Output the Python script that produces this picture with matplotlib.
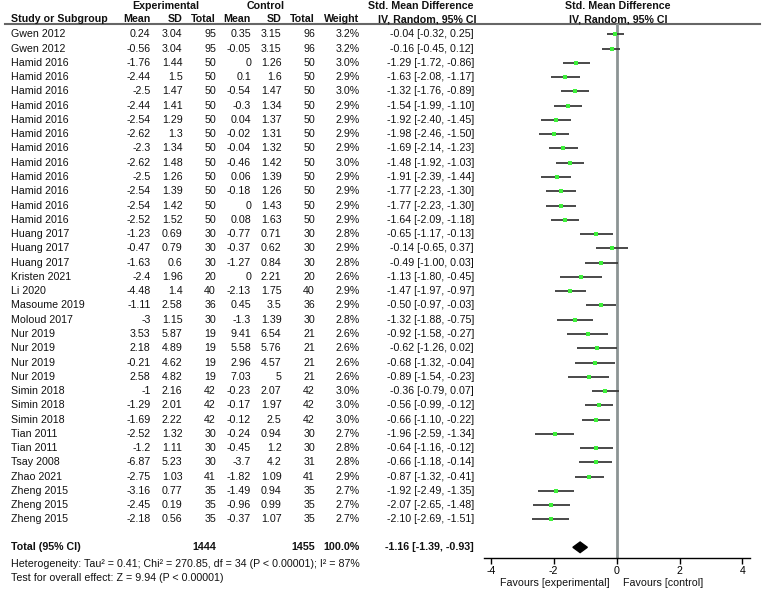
import matplotlib
matplotlib.use('Agg')
import matplotlib.pyplot as plt
import numpy as np

plt.rcParams['font.family'] = ['Liberation Sans', 'DejaVu Sans']

# table data
studies = ['Gwen 2012', 'Gwen 2012'] + ['Hamid 2016'] * 12 + ['Huang 2017'] * 3 + \
    ['Kristen 2021', 'Li 2020', 'Masoume 2019', 'Moloud 2017'] + ['Nur 2019'] * 4 + \
    ['Simin 2018'] * 3 + ['Tian 2011', 'Tian 2011', 'Tsay 2008', 'Zhao 2021'] + ['Zheng 2015'] * 3
exp_mean = ['0.24', '-0.56', '-1.76', '-2.44', '-2.5', '-2.44', '-2.54', '-2.62', '-2.3', '-2.62',
            '-2.5', '-2.54', '-2.54', '-2.52', '-1.23', '-0.47', '-1.63', '-2.4', '-4.48', '-1.11',
            '-3', '3.53', '2.18', '-0.21', '2.58', '-1', '-1.29', '-1.69', '-2.52', '-1.2', '-6.87',
            '-2.75', '-3.16', '-2.45', '-2.18']
exp_sd = ['3.04', '3.04', '1.44', '1.5', '1.47', '1.41', '1.29', '1.3', '1.34', '1.48', '1.26',
          '1.39', '1.42', '1.52', '0.69', '0.79', '0.6', '1.96', '1.4', '2.58', '1.15', '5.87',
          '4.89', '4.62', '4.82', '2.16', '2.01', '2.22', '1.32', '1.11', '5.23', '1.03', '0.77',
          '0.19', '0.56']
exp_n = [95, 95] + [50] * 12 + [30, 30, 30, 20, 40, 36, 30, 19, 19, 19, 19, 42, 42, 42,
                                30, 30, 30, 41, 35, 35, 35]
ctl_mean = ['0.35', '-0.05', '0', '0.1', '-0.54', '-0.3', '0.04', '-0.02', '-0.04', '-0.46',
            '0.06', '-0.18', '0', '0.08', '-0.77', '-0.37', '-1.27', '0', '-2.13', '0.45', '-1.3',
            '9.41', '5.58', '2.96', '7.03', '-0.23', '-0.17', '-0.12', '-0.24', '-0.45', '-3.7',
            '-1.82', '-1.49', '-0.96', '-0.37']
ctl_sd = ['3.15', '3.15', '1.26', '1.6', '1.47', '1.34', '1.37', '1.31', '1.32', '1.42', '1.39',
          '1.26', '1.43', '1.63', '0.71', '0.62', '0.84', '2.21', '1.75', '3.5', '1.39', '6.54',
          '5.76', '4.57', '5', '2.07', '1.97', '2.5', '0.94', '1.2', '4.2', '1.09', '0.94',
          '0.99', '1.07']
ctl_n = [96, 96] + [50] * 12 + [30, 30, 30, 20, 40, 36, 30, 21, 21, 21, 21, 42, 42, 42,
                                30, 30, 31, 41, 35, 35, 35]
weight = [3.2, 3.2, 3.0, 2.9, 3.0, 2.9, 2.9, 2.9, 2.9, 3.0, 2.9, 2.9, 2.9, 2.9, 2.8, 2.9, 2.8,
          2.6, 2.9, 2.9, 2.8, 2.6, 2.6, 2.6, 2.6, 3.0, 3.0, 3.0, 2.7, 2.8, 2.8, 2.9, 2.7, 2.7, 2.7]
smd = [-0.04, -0.16, -1.29, -1.63, -1.32, -1.54, -1.92, -1.98, -1.69, -1.48, -1.91, -1.77,
       -1.77, -1.64, -0.65, -0.14, -0.49, -1.13, -1.47, -0.50, -1.32, -0.92, -0.62, -0.68,
       -0.89, -0.36, -0.56, -0.66, -1.96, -0.64, -0.66, -0.87, -1.92, -2.07, -2.10]
ci_lo = [-0.32, -0.45, -1.72, -2.08, -1.76, -1.99, -2.40, -2.46, -2.14, -1.92, -2.39, -2.23,
         -2.23, -2.09, -1.17, -0.65, -1.00, -1.80, -1.97, -0.97, -1.88, -1.58, -1.26, -1.32,
         -1.54, -0.79, -0.99, -1.10, -2.59, -1.16, -1.18, -1.32, -2.49, -2.65, -2.69]
ci_hi = [0.25, 0.12, -0.86, -1.17, -0.89, -1.10, -1.45, -1.50, -1.23, -1.03, -1.44, -1.30,
         -1.30, -1.18, -0.13, 0.37, 0.03, -0.45, -0.97, -0.03, -0.75, -0.27, 0.02, -0.04,
         -0.23, 0.07, -0.12, -0.22, -1.34, -0.12, -0.14, -0.41, -1.35, -1.48, -1.51]

total_exp = 1444
total_ctl = 1455
total_smd = -1.16
total_lo = -1.39
total_hi = -0.93
het_text = 'Heterogeneity: Tau² = 0.41; Chi² = 270.85, df = 34 (P < 0.00001); I² = 87%'
z_text = 'Test for overall effect: Z = 9.94 (P < 0.00001)'
xticks = [-4, -2, 0, 2, 4]

W, H = 763, 591
fig = plt.figure(figsize=(W / 100, H / 100), dpi=100)

# text layer in pixel coordinates
tab = fig.add_axes([0, 0, 1, 1])
tab.set_xlim(0, W)
tab.set_ylim(H, 0)
tab.axis('off')

fs = 7.7
row0, dy = 34.3, 14.27
header_y = 23.5
axis_y = 558

def t(x, y, s, ha='left', bold=False):
    tab.text(x, y, s, ha=ha, va='center', fontsize=fs,
             fontweight='bold' if bold else 'normal', color='#111111')

# headers
t(166, 6, 'Experimental', 'center', True)
t(266, 6, 'Control', 'center', True)
t(421, 6, 'Std. Mean Difference', 'center', True)
t(618, 6, 'Std. Mean Difference', 'center', True)
t(11, 19.5, 'Study or Subgroup', bold=True)
cols = [150.5, 182.5, 216, 251, 281.5, 315, 359.5]
for x, s in zip(cols, ['Mean', 'SD', 'Total', 'Mean', 'SD', 'Total', 'Weight']):
    t(x, 19.5, s, 'right', True)
t(427, 19.5, 'IV, Random, 95% CI', 'center', True)
t(618, 19.5, 'IV, Random, 95% CI', 'center', True)
tab.plot([5, 760], [header_y, header_y], color='#666666', lw=1.5)

for i in range(len(studies)):
    y = row0 + i * dy
    t(11, y, studies[i])
    vals = [exp_mean[i], exp_sd[i], str(exp_n[i]), ctl_mean[i], ctl_sd[i], str(ctl_n[i]),
            f'{weight[i]:.1f}%']
    for x, s in zip(cols, vals):
        t(x, y, s, 'right')
    t(474, y, f'{smd[i]:.2f} [{ci_lo[i]:.2f}, {ci_hi[i]:.2f}]', 'right')

ty = 547.3
t(11, ty, 'Total (95% CI)', bold=True)
t(cols[2], ty, str(total_exp), 'right', True)
t(cols[5], ty, str(total_ctl), 'right', True)
t(cols[6], ty, '100.0%', 'right', True)
t(474, ty, f'{total_smd:.2f} [{total_lo:.2f}, {total_hi:.2f}]', 'right', True)
t(11, 564, het_text)
t(11, 578.3, z_text)
t(610, 583.5, 'Favours [experimental]', 'right')
t(623, 583.5, 'Favours [control]', 'left')

# forest axes: x in SMD units, y in pixel rows
x0_px, scale = 616.6, 31.45
left_px, right_px = 484, 750
ax = fig.add_axes([left_px / W, 1 - axis_y / H, (right_px - left_px) / W, (axis_y - header_y) / H])
ax.set_xlim((left_px - x0_px) / scale, (right_px - x0_px) / scale)
ax.set_ylim(axis_y, header_y)
ax.patch.set_alpha(0)
for s in ['top', 'left', 'right']:
    ax.spines[s].set_visible(False)
ax.spines['bottom'].set_linewidth(1.0)
ax.set_yticks([])
ax.set_xticks(xticks)
ax.set_xticklabels([str(v) for v in xticks], fontsize=fs)
ax.tick_params(axis='x', direction='out', length=4, width=1, pad=2)

ax.axvline(0, color='#8c9494', lw=2, zorder=1)
ys = row0 + np.arange(len(studies)) * dy
ax.hlines(ys, ci_lo, ci_hi, color='#3a3a3a', lw=1.3, zorder=2)
ax.plot(smd, ys, 's', color='#3ef03a', markersize=3.4, markeredgewidth=0, zorder=3)

dh = 5.3
ax.fill([total_lo, total_smd, total_hi, total_smd], [ty, ty - dh, ty, ty + dh],
        color='black', zorder=3, clip_on=False)

fig.savefig('out.png', dpi=100)
